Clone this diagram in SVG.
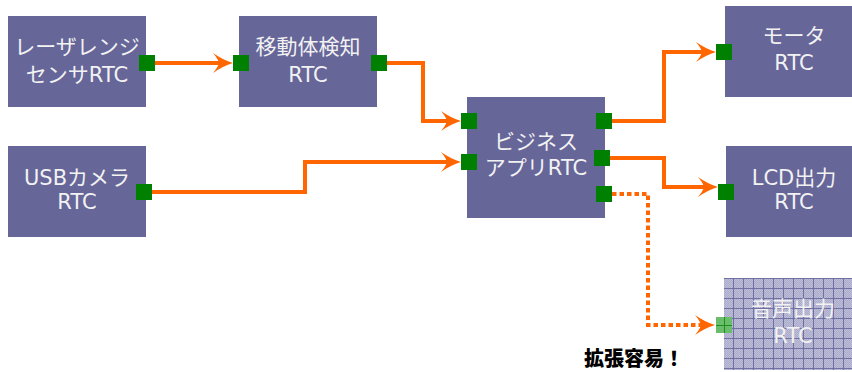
<svg xmlns="http://www.w3.org/2000/svg" width="852" height="372" viewBox="0 0 852 372">
<style>
.node{fill:#666699}
.port{fill:#008000}
.lbl{font-family:"DejaVu Sans","Noto Sans CJK JP",sans-serif;font-size:21px;fill:#f2f2f2;text-anchor:middle}
.conn{fill:none;stroke:#ff6600;stroke-width:4;marker-end:url(#ah)}
.dot{stroke-dasharray:4.5 3}
.note{font-family:"Noto Sans CJK JP",sans-serif;font-size:20px;font-weight:900;fill:#000}
</style>
<defs>
<marker id="ah" markerUnits="userSpaceOnUse" orient="auto" overflow="visible" refX="0" refY="0" markerWidth="1" markerHeight="1">
<path d="M12,0 Q2,-3 -8,-10 Q-3,-4 -2,0 Q-3,4 -8,10 Q2,3 12,0Z" fill="#ff6600"/>
</marker>
<pattern id="dither" width="2" height="2" patternUnits="userSpaceOnUse">
<rect width="2" height="2" fill="#bebed8"/>
<rect width="1" height="1" fill="#aaaaca"/>
<rect x="1" y="1" width="1" height="1" fill="#aaaaca"/>
</pattern>
<pattern id="grid" x="723" y="278" width="10" height="10" patternUnits="userSpaceOnUse">
<rect width="10" height="10" fill="url(#dither)"/>
<path d="M0.5,0 V10 M0,0.5 H10" stroke="#7070a2" stroke-width="1"/>
</pattern>
</defs>
<g id="connectors">
<path class="conn" d="M155,63 H221"/>
<path class="conn" d="M387,63 H423 V121 H449"/>
<path class="conn" d="M152,192 H305 V162 H449"/>
<path class="conn" d="M612,121 H664 V52 H704"/>
<path class="conn" d="M610,158 H664 V187 H706"/>
<path class="conn dot" d="M612,194 H648 V325 H703"/>
</g>
<g id="laser">
<rect class="node" x="8" y="16" width="138" height="91"/>
<text class="lbl" x="77" y="54">レーザレンジ</text>
<text class="lbl" x="77" y="81.5">センサRTC</text>
<rect class="port" x="139" y="55" width="16" height="16"/>
</g>
<g id="detect">
<rect class="node" x="239" y="16" width="138" height="91"/>
<text class="lbl" x="308" y="54">移動体検知</text>
<text class="lbl" x="308" y="81.5">RTC</text>
<rect class="port" x="233" y="55" width="16" height="16"/>
<rect class="port" x="371" y="55" width="16" height="16"/>
</g>
<g id="usbcam">
<rect class="node" x="8" y="146" width="138" height="91"/>
<text class="lbl" x="77" y="185">USBカメラ</text>
<text class="lbl" x="77" y="209">RTC</text>
<rect class="port" x="136" y="184" width="16" height="16"/>
</g>
<g id="business">
<rect class="node" x="467" y="97" width="138" height="121"/>
<text class="lbl" x="536" y="149">ビジネス</text>
<text class="lbl" x="536" y="175">アプリRTC</text>
<rect class="port" x="461" y="113" width="16" height="16"/>
<rect class="port" x="461" y="154" width="16" height="16"/>
<rect class="port" x="596" y="113" width="16" height="16"/>
<rect class="port" x="594" y="150" width="16" height="16"/>
<rect class="port" x="596" y="186" width="16" height="16"/>
</g>
<g id="motor">
<rect class="node" x="725" y="6" width="138" height="91"/>
<text class="lbl" x="794" y="43">モータ</text>
<text class="lbl" x="794" y="70">RTC</text>
<rect class="port" x="716" y="44" width="16" height="16"/>
</g>
<g id="lcd">
<rect class="node" x="726" y="146" width="138" height="91"/>
<text class="lbl" x="794" y="185">LCD出力</text>
<text class="lbl" x="794" y="208.5">RTC</text>
<rect class="port" x="718" y="184" width="16" height="16"/>
</g>
<g id="audio">
<rect x="724" y="278" width="138" height="92" fill="url(#grid)"/>
<text class="lbl" x="793" y="316">音声出力</text>
<text class="lbl" x="793" y="343">RTC</text>
<rect x="716" y="317" width="16" height="16" fill="#ffffff"/>
<path d="M724.5,317 V333 M716,325.5 H732" stroke="#2a7a2a" stroke-width="1"/>
<rect x="716" y="317" width="16" height="16" fill="#1a9a1a" opacity="0.65"/>
</g>
<text class="note" x="584" y="366">拡張容易！</text>
</svg>
